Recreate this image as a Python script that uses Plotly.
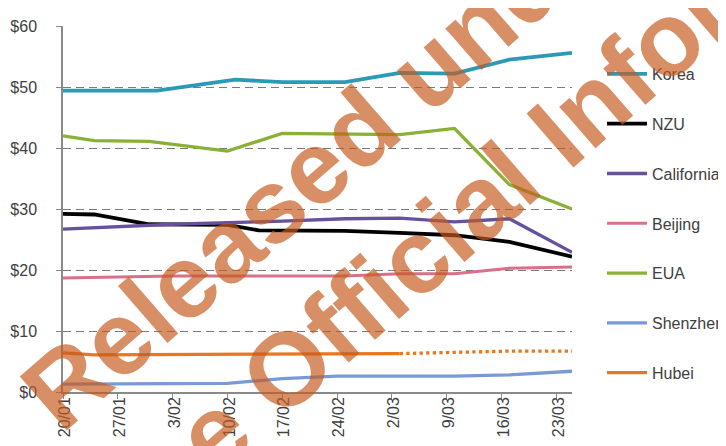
import plotly.graph_objects as go

# ---------------- data ----------------
series_names = ["Korea", "NZU", "California", "Beijing", "EUA", "Shenzhen", "Hubei"]

korea_dates = ["2020-01-20", "2020-02-01", "2020-02-11", "2020-02-17", "2020-02-25",
               "2020-03-03", "2020-03-10", "2020-03-17", "2020-03-25"]
korea_vals = [49.4, 49.4, 51.2, 50.8, 50.8, 52.3, 52.2, 54.5, 55.6]

nzu_dates = ["2020-01-20", "2020-01-24", "2020-01-31", "2020-02-10", "2020-02-14",
             "2020-02-25", "2020-03-03", "2020-03-10", "2020-03-17", "2020-03-25"]
nzu_vals = [29.2, 29.1, 27.5, 27.4, 26.5, 26.4, 26.1, 25.7, 24.6, 22.2]

california_dates = ["2020-01-20", "2020-02-03", "2020-02-17", "2020-02-25", "2020-03-03",
                    "2020-03-10", "2020-03-17", "2020-03-25"]
california_vals = [26.7, 27.5, 28.0, 28.4, 28.5, 27.9, 28.4, 22.9]

beijing_dates = ["2020-01-20", "2020-02-03", "2020-02-25", "2020-03-03", "2020-03-10",
                 "2020-03-17", "2020-03-25"]
beijing_vals = [18.7, 19.0, 19.0, 19.4, 19.4, 20.3, 20.5]

eua_dates = ["2020-01-20", "2020-01-24", "2020-01-31", "2020-02-10", "2020-02-17",
             "2020-02-25", "2020-03-03", "2020-03-10", "2020-03-17", "2020-03-25"]
eua_vals = [42.0, 41.2, 41.1, 39.5, 42.4, 42.3, 42.2, 43.2, 34.0, 30.0]

shenzhen_dates = ["2020-01-20", "2020-02-10", "2020-02-17", "2020-02-24", "2020-03-03",
                  "2020-03-10", "2020-03-17", "2020-03-25"]
shenzhen_vals = [1.3, 1.4, 2.2, 2.6, 2.6, 2.6, 2.8, 3.4]

hubei_dates = ["2020-01-20", "2020-01-24", "2020-03-03"]
hubei_vals = [6.4, 6.1, 6.3]
hubei_est_dates = ["2020-03-03", "2020-03-17", "2020-03-25"]
hubei_est_vals = [6.3, 6.7, 6.7]

tick_dates = ["2020-01-20", "2020-01-27", "2020-02-03", "2020-02-10", "2020-02-17",
              "2020-02-24", "2020-03-02", "2020-03-09", "2020-03-16", "2020-03-23"]
tick_labels = ["20/01", "27/01", "3/02", "10/02", "17/02", "24/02", "2/03", "9/03", "16/03", "23/03"]

watermark_lines = ["Released under", "the Official Information Act"]

# ---------------- styling ----------------
colors = {
    "Korea": "#2C9AB7",
    "NZU": "#000000",
    "California": "#65519C",
    "Beijing": "#D77088",
    "EUA": "#8AB035",
    "Shenzhen": "#7A9AD6",
    "Hubei": "#E8771E",
}
widths = {"Korea": 3.8, "NZU": 3.8, "California": 3.3, "Beijing": 3.0,
          "EUA": 3.3, "Shenzhen": 3.3, "Hubei": 3.3}

data_map = {
    "Korea": (korea_dates, korea_vals),
    "NZU": (nzu_dates, nzu_vals),
    "California": (california_dates, california_vals),
    "Beijing": (beijing_dates, beijing_vals),
    "EUA": (eua_dates, eua_vals),
    "Shenzhen": (shenzhen_dates, shenzhen_vals),
    "Hubei": (hubei_dates, hubei_vals),
}

W, H = 726, 446
ML, MR, MT, MB = 55, 162, 18, 62
PW, PH = W - ML - MR, H - MT - MB

def px_to_paper(px, py):
    return (px - ML) / PW, (H - MB - py) / PH

FONT = "Liberation Sans, Arial, sans-serif"
TXT = "#404040"

fig = go.Figure()
for name in series_names:
    d, v = data_map[name]
    fig.add_trace(go.Scatter(
        x=d, y=v, mode="lines", name=name, legendgroup=name,
        line=dict(color=colors[name], width=widths[name]),
    ))
fig.add_trace(go.Scatter(
    x=hubei_est_dates, y=hubei_est_vals, mode="lines", name="Hubei",
    legendgroup="Hubei", showlegend=False,
    line=dict(color=colors["Hubei"], width=3.3, dash="dot"),
))

annotations = []
wm_centers = [(322, 146), (611, 72)]
for txt, (cx, cy) in zip(watermark_lines, wm_centers):
    ax, ay = px_to_paper(cx, cy)
    annotations.append(dict(
        text="<b>" + txt + "</b>", x=ax, y=ay, xref="paper", yref="paper",
        xanchor="center", yanchor="middle", showarrow=False,
        textangle=-41,
        font=dict(family=FONT, size=104, color="rgba(197,90,30,0.68)"),
    ))

lx, ly = px_to_paper(594, 49)
fig.update_layout(
    width=W, height=H,
    margin=dict(l=ML, r=MR, t=MT, b=MB, pad=0, autoexpand=False),
    paper_bgcolor="white", plot_bgcolor="white",
    font=dict(family=FONT, size=16, color=TXT),
    showlegend=True,
    legend=dict(x=lx, y=ly, xanchor="left", yanchor="top",
                font=dict(family=FONT, size=16, color=TXT),
                tracegroupgap=26, bgcolor="rgba(0,0,0,0)", itemwidth=40),
    annotations=annotations,
    xaxis=dict(
        type="date", range=["2020-01-20", "2020-03-25"],
        tickvals=tick_dates, ticktext=tick_labels, tickangle=-90,
        showgrid=False, zeroline=False, automargin=False,
        showline=True, linecolor="#8A8A8A", linewidth=1.5,
        ticks="outside", ticklen=5, tickcolor="#8A8A8A", tickwidth=1,
        tickfont=dict(family=FONT, size=16, color=TXT),
        ticklabelshift=2, ticklabelstandoff=-8,
    ),
    yaxis=dict(
        range=[0, 60], dtick=10, tick0=0, tickprefix="$",
        showgrid=True, gridcolor="#7A7A7A", gridwidth=1.4, griddash="8px,5px",
        zeroline=False, automargin=False,
        showline=True, linecolor="#8A8A8A", linewidth=1.5,
        ticks="outside", ticklen=5, tickcolor="#8A8A8A", tickwidth=1,
        tickfont=dict(family=FONT, size=16, color=TXT),
        ticklabelstandoff=16,
    ),
)

fig.write_html("out.html")
